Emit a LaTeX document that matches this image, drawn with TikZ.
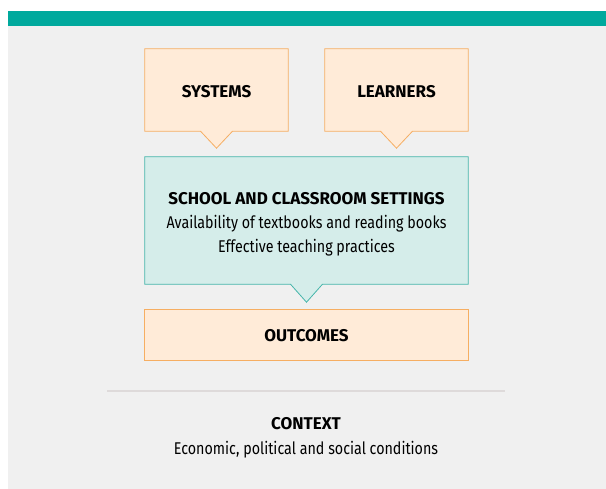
\documentclass[tikz,border=0pt]{standalone}
\usepackage{fontspec}
\setmainfont{Fira Sans}[FakeStretch=0.84]
\newfontfamily\headfont{Fira Sans}
\usetikzlibrary{positioning,calc,backgrounds}

\definecolor{barteal}{HTML}{00A99D}
\definecolor{panelgrey}{HTML}{F0F0F0}
\definecolor{peachfill}{HTML}{FFEBD8}
\definecolor{peachline}{HTML}{F6AE62}
\definecolor{mintfill}{HTML}{D5EDEA}
\definecolor{mintline}{HTML}{45B5AA}
\definecolor{rulegrey}{HTML}{DEDADA}

\begin{document}
\begin{tikzpicture}[
  x=1pt, y=-1pt,
  font=\fontsize{17}{24}\selectfont,
  head/.style={font=\fontsize{17}{24}\selectfont\headfont\bfseries},
  factor/.style={rectangle, minimum width=143pt, minimum height=82pt, inner sep=0pt},
  setting/.style={rectangle, minimum width=323pt, minimum height=127pt, inner sep=0pt},
  result/.style={rectangle, minimum width=323pt, minimum height=50pt, inner sep=0pt},
  peachshape/.style={draw=peachline, fill=peachfill, line width=0.8pt},
  mintshape/.style={draw=mintline, fill=mintfill, line width=0.8pt},
  divider/.style={draw=rulegrey, line width=2pt},
]
\useasboundingbox (0,0) rectangle (606,489);

% --- boxes ---
\node[factor] (systems)  at (216.5,90) {};
\node[head] (systemstext) at (216.5,92) {SYSTEMS};
\node[factor] (learners) at (396.5,90) {};
\node[head] (learnerstext) at (396.5,92) {LEARNERS};

\node[setting] (school) at (306.5,220.5) {};
\node[align=center] (schooltext) at (306.5,224.5)
  {{\headfont\bfseries SCHOOL AND CLASSROOM SETTINGS}\\
   Availability of textbooks and reading books\\
   Effective teaching practices};

\node[result] (outcomes) at (306.5,335) {};
\node[head] (outcomestext) at (306.5,336) {OUTCOMES};

% --- context ---
\coordinate (ruleL) at (107,391);
\coordinate (ruleR) at (505,391);
\draw[divider] (ruleL) -- (ruleR);

\node[align=center, font=\fontsize{17}{25}\selectfont] (context) at (306,438)
  {{\headfont\bfseries CONTEXT}\\ Economic, political and social conditions};

% --- panel, bar and box outlines (behind) ---
\begin{scope}[on background layer]
  \fill[panelgrey] (8,11) rectangle (606,489);
  \fill[barteal] (8,11) rectangle (606,26);
  \draw[peachshape] (systems.north west) -- (systems.north east) -- (systems.south east)
    -- ($(systems.south)+(16,0)$) -- ($(systems.south)+(0,17)$) -- ($(systems.south)+(-16,0)$)
    -- (systems.south west) -- cycle;
  \draw[peachshape] (learners.north west) -- (learners.north east) -- (learners.south east)
    -- ($(learners.south)+(16,0)$) -- ($(learners.south)+(0,17)$) -- ($(learners.south)+(-16,0)$)
    -- (learners.south west) -- cycle;
  \draw[mintshape] (school.north west) -- (school.north east) -- (school.south east)
    -- ($(school.south)+(16,0)$) -- ($(school.south)+(0,18)$) -- ($(school.south)+(-16,0)$)
    -- (school.south west) -- cycle;
  \draw[peachshape] (outcomes.north west) rectangle (outcomes.south east);
\end{scope}

\end{tikzpicture}
\end{document}
